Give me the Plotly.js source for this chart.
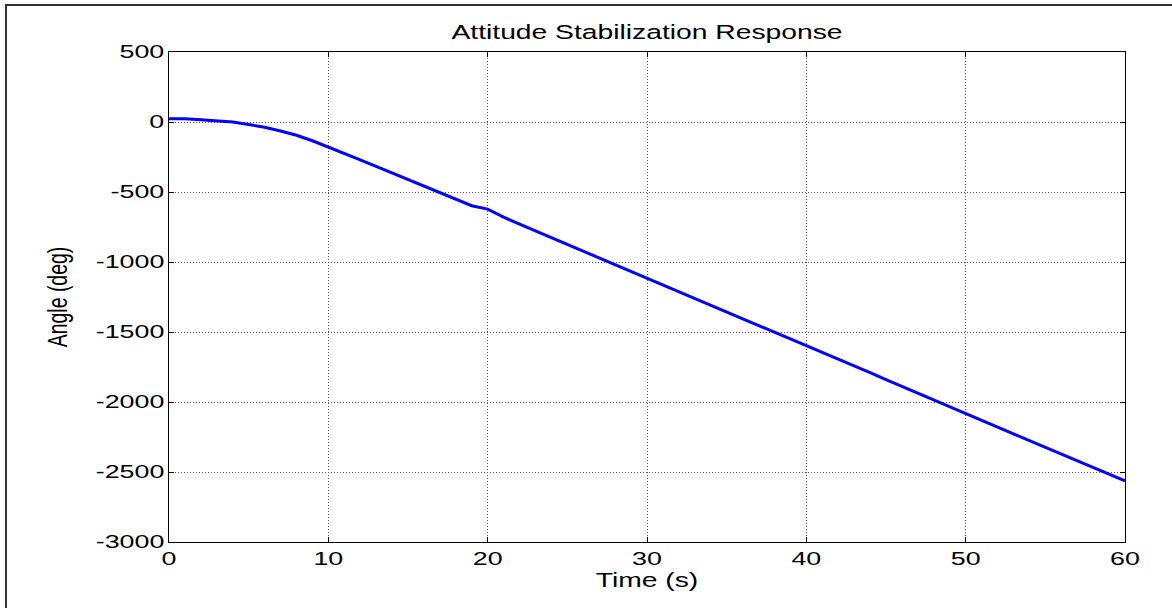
<!DOCTYPE html>
<html>
<head>
<meta charset="utf-8">
<script src="https://cdn.plot.ly/plotly-3.0.1.min.js"></script>
<style>
  html, body { margin: 0; padding: 0; background: #ffffff; overflow: hidden; }
  #wrap { position: relative; width: 1172px; height: 608px; overflow: hidden; }
  #chart { width: 1172px; height: 608px; }
  #frame { position: absolute; left: 5px; top: 4px; width: 3000px; height: 3000px;
           border: 2px solid #333; pointer-events: none; }
</style>
</head>
<body>
<div id="wrap">
  <div id="chart"></div>
  <div id="frame"></div>
</div>
<script>
// ---- data ----
const timeS = [0,1,2,3,4,5,6,7,8,9,10,11,12,13,14,15,16,17,18,19,20,21,22,23,24,25,26,27,28,29,30,
  31,32,33,34,35,36,37,38,39,40,41,42,43,44,45,46,47,48,49,50,51,52,53,54,55,56,57,58,59,60];
const angleDeg = [23,23,16,8,0,-18,-38,-64,-95,-134,-178,-224,-270,-317,-364,-411,-458,-506,-553,-598,-622,
  -680,-730,-778,-826,-875,-923,-971,-1019,-1068,-1116,-1164,-1212,-1260,-1308,-1356,-1404,-1452,-1500,-1548,-1595,
  -1644,-1693,-1742,-1791,-1840,-1889,-1938,-1987,-2036,-2086,-2133,-2181,-2228,-2276,-2323,-2370,-2418,-2466,-2514,-2563];
const xTickVals = [0,10,20,30,40,50,60];
const xTickText = ["0","10","20","30","40","50","60"];
const yTickVals = [500,0,-500,-1000,-1500,-2000,-2500,-3000];
const yTickText = ["500","0","-500","-1000","-1500","-2000","-2500","-3000"];
const chartTitle = "Attitude Stabilization Response";
const xLabel = "Time (s)";
const yLabel = "Angle (deg)";

const FONT = "Liberation Sans, Arial, sans-serif";

const trace = {
  x: timeS, y: angleDeg, type: "scatter", mode: "lines",
  line: { color: "#0000ff", width: 3 },
  hoverinfo: "skip"
};

const axisCommon = {
  showline: true, linecolor: "#000", linewidth: 1, mirror: "ticks",
  ticks: "inside", ticklen: 5, tickwidth: 1, tickcolor: "#000",
  showgrid: true, gridcolor: "#555", gridwidth: 1, griddash: "1px,2px",
  zeroline: false, tickmode: "array",
  tickfont: { family: FONT, size: 18.5, color: "#000" }
};

const layout = {
  width: 1172, height: 608,
  margin: { l: 168.5, r: 47, t: 52, b: 66, pad: 0 },
  paper_bgcolor: "#ffffff", plot_bgcolor: "#ffffff",
  showlegend: false,
  title: { text: chartTitle, font: { family: FONT, size: 19.5, color: "#000" },
           x: 0.5, xref: "paper", xanchor: "center", y: 1 - 32/608, yref: "container", yanchor: "middle" },
  xaxis: Object.assign({}, axisCommon, {
    range: [0, 60], tickvals: xTickVals, ticktext: xTickText,
    title: { text: xLabel, font: { family: FONT, size: 19.5, color: "#000" }, standoff: 5 }
  }),
  yaxis: Object.assign({}, axisCommon, {
    range: [-3000, 500], tickvals: yTickVals, ticktext: yTickText,
    title: { text: yLabel, font: { family: FONT, size: 19.5, color: "#000" }, standoff: 44 }
  })
};

function stretchText(el, s, vertical) {
  const x = parseFloat(el.getAttribute("x") || "0");
  const y = parseFloat(el.getAttribute("y") || "0");
  const base = el.getAttribute("transform") || "";
  const extra = vertical
    ? ` translate(${x},${y}) scale(1,${s}) translate(${-x},${-y})`
    : ` translate(${x},0) scale(${s},1) translate(${-x},0)`;
  el.setAttribute("transform", (base + extra).trim());
}

Plotly.newPlot("chart", [trace], layout, { staticPlot: true, displayModeBar: false }).then(function (gd) {
  const S = 1.45;
  gd.querySelectorAll(".xtick text, .ytick text, text.gtitle, text.xtitle").forEach(el => stretchText(el, S, false));
  gd.querySelectorAll("text.ytitle").forEach(el => stretchText(el, S, true));
});
</script>
</body>
</html>
